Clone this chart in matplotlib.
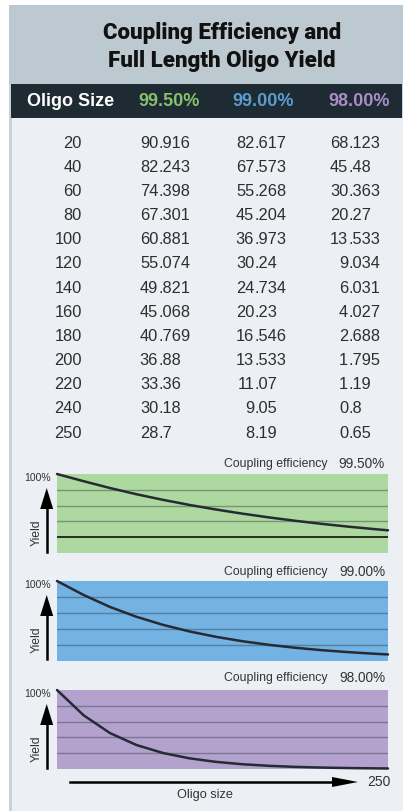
import matplotlib
matplotlib.use("Agg")
import matplotlib.pyplot as plt
from matplotlib.patches import Rectangle, Polygon
from matplotlib.lines import Line2D

# table data
sizes = [20, 40, 60, 80, 100, 120, 140, 160, 180, 200, 220, 240, 250]
yield_995 = [90.916, 82.243, 74.398, 67.301, 60.881, 55.074, 49.821, 45.068, 40.769, 36.88, 33.36, 30.18, 28.7]
yield_990 = [82.617, 67.573, 55.268, 45.204, 36.973, 30.24, 24.734, 20.23, 16.546, 13.533, 11.07, 9.05, 8.19]
yield_980 = [68.123, 45.48, 30.363, 20.27, 13.533, 9.034, 6.031, 4.027, 2.688, 1.795, 1.19, 0.8, 0.65]
efficiencies = ["99.50%", "99.00%", "98.00%"]
start_size = 0
start_yield = 100
grid_levels = [20, 40, 60, 80]

W, H = 403, 811
fig = plt.figure(figsize=(W / 100, H / 100), dpi=100)
fig.patch.set_facecolor("white")


def fx(x):
    return x / W


def fy(y):
    return 1 - y / H


def box(x0, y0, x1, y1, color):
    fig.add_artist(Rectangle((fx(x0), fy(y1)), fx(x1) - fx(x0), fy(y0) - fy(y1),
                             transform=fig.transFigure, facecolor=color, edgecolor="none", zorder=0))


def arrow_up(x, y0, y1, hl, hw):
    # shaft + triangular head, pixel coords
    fig.add_artist(Line2D([fx(x), fx(x)], [fy(y0), fy(y1 + hl - 2)], transform=fig.transFigure,
                          color="black", lw=1.8, zorder=5))
    fig.add_artist(Polygon([(fx(x), fy(y1)), (fx(x - hw), fy(y1 + hl)), (fx(x + hw), fy(y1 + hl))],
                           closed=True, transform=fig.transFigure, facecolor="black",
                           edgecolor="none", zorder=5))


def arrow_right(x0, x1, y, hl, hw):
    fig.add_artist(Line2D([fx(x0), fx(x1 - hl + 2)], [fy(y), fy(y)], transform=fig.transFigure,
                          color="black", lw=1.8, zorder=5))
    fig.add_artist(Polygon([(fx(x1), fy(y)), (fx(x1 - hl), fy(y - hw)), (fx(x1 - hl), fy(y + hw))],
                           closed=True, transform=fig.transFigure, facecolor="black",
                           edgecolor="none", zorder=5))


# background blocks
box(9, 5, 403, 84, "#BDC9D0")
box(9, 84, 403, 811, "#C8D3D9")
box(12, 118, 403, 811, "#ECEFF3")
box(11, 84, 402, 118, "#1E2B33")

# title
fig.text(fx(222), fy(38.5), "Coupling Efficiency and", ha="center", va="baseline",
         fontsize=16, fontweight="heavy", family="Roboto", color="#111111")
fig.text(fx(222), fy(67), "Full Length Oligo Yield", ha="center", va="baseline",
         fontsize=16, fontweight="heavy", family="Roboto", color="#111111")

# header row
cols = ["#86C06C", "#5B9BD0", "#A98CC8"]
fig.text(fx(27), fy(101), "Oligo Size", ha="left", va="center", fontsize=13,
         fontweight="bold", family="Liberation Sans", color="white")
for xs, lab, c in zip([138, 232, 328], efficiencies, cols):
    fig.text(fx(xs), fy(101), lab, ha="left", va="center", fontsize=13,
             fontweight="bold", family="Liberation Sans", color=c)

# table body, decimal aligned
tcol = "#2E2E2E"
tfs = 11.8
for i, n in enumerate(sizes):
    yb = 147.5 + i * 24.17
    fig.text(fx(82), fy(yb), str(n), ha="right", va="baseline", fontsize=tfs,
             family="Liberation Sans", color=tcol)
    for xd, v in zip([158.2, 254.2, 348.2], [yield_995[i], yield_990[i], yield_980[i]]):
        ip, fp = str(v).split(".")
        fig.text(fx(xd), fy(yb), ip, ha="right", va="baseline", fontsize=tfs,
                 family="Liberation Sans", color=tcol)
        fig.text(fx(xd), fy(yb), "." + fp, ha="left", va="baseline", fontsize=tfs,
                 family="Liberation Sans", color=tcol)

# small charts
panels = [(474, 553, "#ADD8A0", yield_995, 464),
          (581, 661, "#72B3E3", yield_990, 572),
          (690, 769, "#B4A2CE", yield_980, 678)]
for k, (top, bot, fc, ys, ly) in enumerate(panels):
    ax = fig.add_axes([fx(57), fy(bot), fx(388) - fx(57), fy(top) - fy(bot)])
    ax.set_facecolor(fc)
    for s in ax.spines.values():
        s.set_visible(False)
    ax.set_xticks([])
    ax.set_yticks([])
    ax.set_xlim(0, 250)
    ax.set_ylim(0, 100)
    for g in grid_levels:
        if k == 0 and g == 20:
            ax.axhline(g, color="black", lw=1.1)
        else:
            ax.axhline(g, color="#3A3F4A", lw=1.0, alpha=0.45)
    ax.plot([start_size] + sizes, [start_yield] + ys, color="#262A35", lw=1.8,
            clip_on=False, solid_capstyle="round")

    fig.text(fx(328), fy(ly), "Coupling efficiency", ha="right", va="center",
             fontsize=8.8, family="Liberation Sans", color="#333333")
    fig.text(fx(385), fy(ly), efficiencies[k], ha="right", va="center",
             fontsize=9.8, family="Liberation Sans", color="#333333")
    fig.text(fx(51), fy(top + 4), "100%", ha="right", va="center",
             fontsize=7.5, family="Liberation Sans", color="#333333")
    fig.text(fx(37), fy(top + 59), "Yield", ha="center", va="center", rotation=90,
             fontsize=8.7, family="Liberation Sans", color="#333333")
    arrow_up(46.7, top + 78, top + 14, 21, 6.5)

# bottom axis arrow
arrow_right(70, 358, 782, 26, 5)
fig.text(fx(379), fy(782), "250", ha="center", va="center", fontsize=10,
         family="Liberation Sans", color="#333333")
fig.text(fx(205), fy(795), "Oligo size", ha="center", va="center", fontsize=9.2,
         family="Liberation Sans", color="#333333")

fig.savefig("out.png", dpi=100, facecolor="white")
